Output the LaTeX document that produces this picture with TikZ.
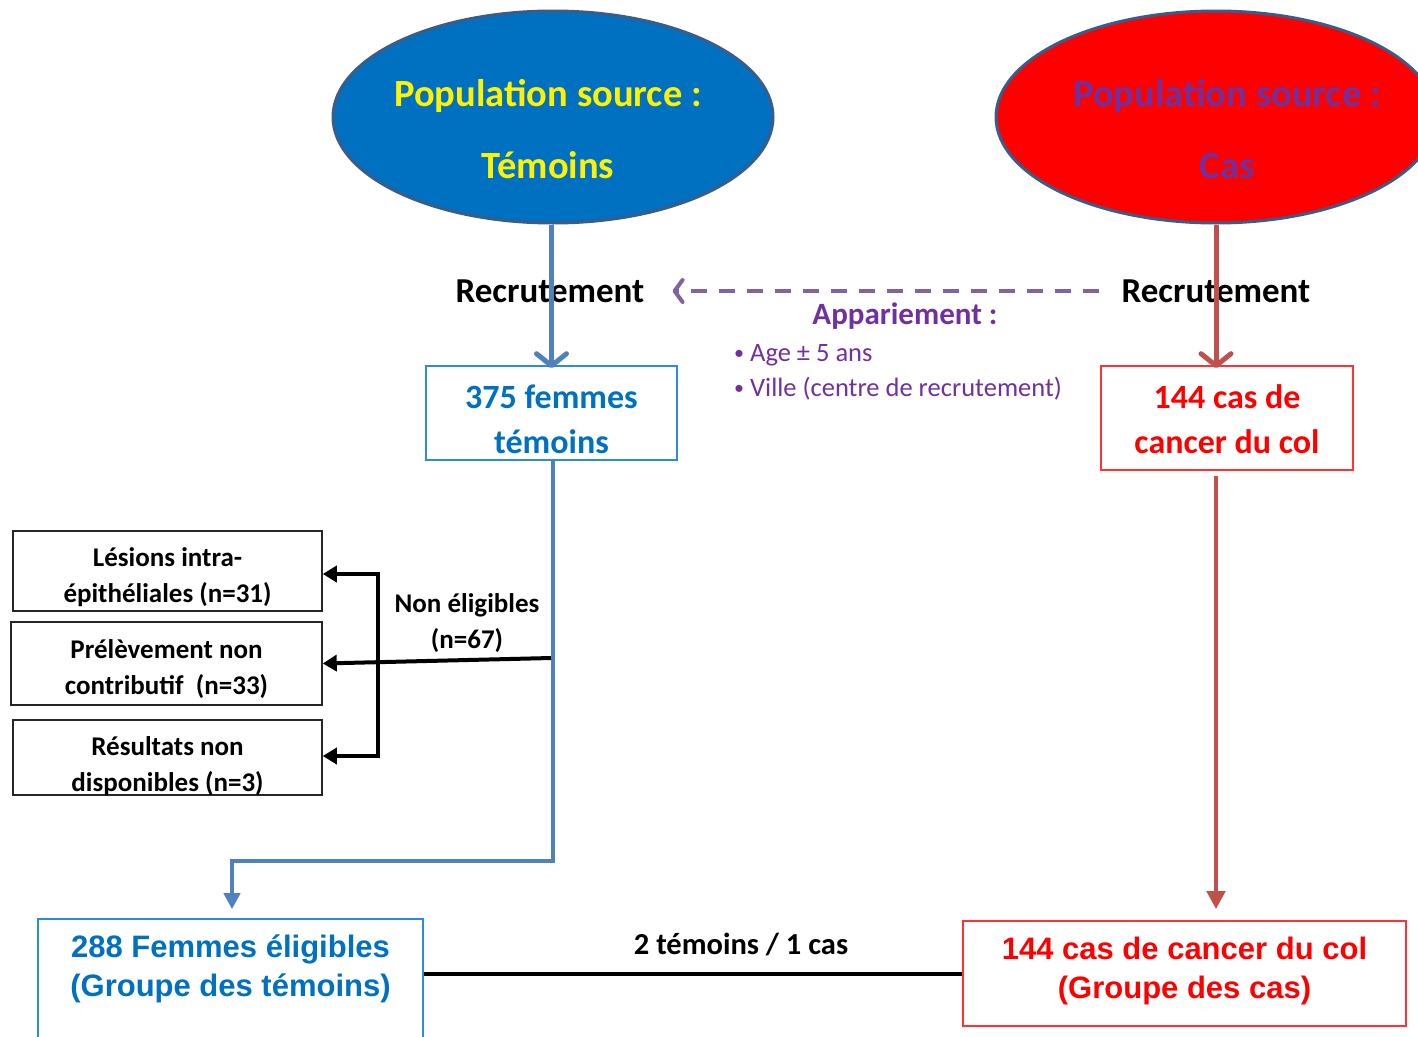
\documentclass[tikz,border=0pt]{standalone}
\usepackage{fontspec}
\setmainfont{Carlito}
\newfontfamily\arialfont{Liberation Sans}
\usetikzlibrary{shapes.geometric,arrows.meta}
\definecolor{ellblue}{HTML}{0070C0}
\definecolor{ellborder}{HTML}{385D8A}
\definecolor{ellred}{HTML}{FF0000}
\definecolor{lineblue}{HTML}{4F81BD}
\definecolor{linered}{HTML}{C0504D}
\definecolor{dashpurple}{HTML}{8064A2}
\definecolor{txtpurple}{HTML}{7030A0}
\definecolor{txtblue}{HTML}{0070C0}
\definecolor{boxblue}{HTML}{2E8BD8}
\definecolor{boxred}{HTML}{FF3333}
\tikzset{
  popell/.style={ellipse, draw=ellborder, line width=3pt, minimum width=440pt, minimum height=212pt, inner sep=0pt},
  poptxt/.style={align=center, font=\fontsize{38.5}{72}\selectfont\bfseries},
  rectxt/.style={font=\fontsize{35}{40}\selectfont\bfseries, text=black, inner sep=0pt},
  boxframe/.style={line width=1.6pt, inner sep=0pt},
  boxtxt/.style={align=center, inner sep=0pt, font=\fontsize{34}{45}\selectfont\bfseries},
  smallbox/.style={draw=black!85, line width=1.5pt, inner sep=0pt},
  smalltxt/.style={align=center, inner sep=0pt, font=\fontsize{27}{36}\selectfont\bfseries},
  bigtxt/.style={align=center, inner sep=0pt, font=\fontsize{31}{39}\selectfont\arialfont\bfseries},
  openarrow/.style={line width=5pt, -{Straight Barb[length=12pt,width=30pt,line width=5pt,round]}},
  blackarrow/.style={black, line width=4pt, -{Triangle[length=14pt,width=16pt]}},
}
\begin{document}
\begin{tikzpicture}[x=1pt,y=-1pt]
\useasboundingbox (0,0) rectangle (1418,1036);
\clip (0,0) rectangle (1418,1036);
% ellipses
\node[popell, fill=ellblue] (popT) at (553,117) {};
\node[poptxt, text={yellow}] (popTtxt) at (548,129) {Population source :\\Témoins};
\node[popell, fill=ellred] (popC) at (1216,117) {};
\node[poptxt, text=txtpurple] (popCtxt) at (1227,129) {Population source :\\Cas};
% recruitment labels
\node[rectxt] (recT) at (550,291) {Recrutement};
\node[rectxt] (recC) at (1216,291) {Recrutement};
% matching text
\node[text=txtpurple, font=\fontsize{31}{34}\selectfont\bfseries, inner sep=0pt] (appar) at (905,316) {Appariement :};
\node[text=txtpurple, font=\fontsize{26.5}{35}\selectfont, align=left, anchor=west, inner sep=0pt] (crit) at (734,372) {\fontsize{20}{35}\selectfont\raisebox{2pt}{•}\fontsize{26.5}{35}\selectfont\ Age ± 5 ans\\\fontsize{20}{35}\selectfont\raisebox{2pt}{•}\fontsize{26.5}{35}\selectfont\ Ville (centre de recrutement)};
% boxes
\node[boxframe, draw=boxblue, minimum width=251pt, minimum height=94pt] (f375) at (551.5,413) {};
\node[boxtxt, text=txtblue] (f375txt) at (551.5,419) {375 femmes\\témoins};
\node[boxframe, draw=boxred, minimum width=252pt, minimum height=104pt] (c144) at (1227,418) {};
\node[boxtxt, text=ellred] (c144txt) at (1227,419) {144 cas de\\cancer du col};
% small boxes
\node[smallbox, minimum width=309pt, minimum height=80pt] (b1) at (167.5,571) {};
\node[smalltxt] (b1txt) at (167.5,577) {Lésions intra-\\épithéliales (n=31)};
\node[smallbox, minimum width=311pt, minimum height=83pt] (b2) at (166.5,663.5) {};
\node[smalltxt] (b2txt) at (166.5,669) {Prélèvement non\\contributif~~(n=33)};
\node[smallbox, minimum width=309pt, minimum height=75pt] (b3) at (167.5,757.5) {};
\node[smalltxt] (b3txt) at (167.5,766) {Résultats non\\disponibles (n=3)};
\node[smalltxt] (nonel) at (467,623) {Non éligibles\\(n=67)};
% bottom boxes
\node[boxframe, draw=boxblue, minimum width=385pt, minimum height=126pt] (e288) at (230.5,982) {};
\node[bigtxt, text=txtblue] (e288txt) at (230.5,969) {288 Femmes éligibles\\(Groupe des témoins)};
\node[boxframe, draw=boxred, minimum width=443pt, minimum height=105pt] (c144b) at (1184.5,973.5) {};
\node[bigtxt, text=ellred] (c144btxt) at (1184.5,970.5) {144 cas de cancer du col\\(Groupe des cas)};
\node[font=\fontsize{30.5}{34}\selectfont\bfseries, inner sep=0pt] (ratio) at (741,944) {2 témoins / 1 cas};
% connectors
\draw[openarrow, lineblue] (popT.south -| f375.north) -- ([yshift=-3pt]f375.north);
\draw[openarrow, linered] (popC.south) -- ([yshift=-3pt]popC.south |- c144.north);
\draw[dashpurple, line width=4pt, dash pattern=on 16pt off 12pt, -{Straight Barb[length=8pt,width=22pt,line width=4pt,round]}] ([xshift=-22pt]recC.west) -- ([xshift=28pt]recT.east);
\coordinate (turn1) at (553,861);
\coordinate (turn2) at (232,861);
\draw[lineblue, line width=4.5pt, -{Triangle[length=16pt,width=16pt]}, shorten >=9pt] ([xshift=1.5pt]f375.south) -- (turn1) -- (turn2) -- (turn2 |- e288.north);
\draw[linered, line width=4.5pt, -{Triangle[length=18pt,width=18pt]}, shorten >=11pt] ([yshift=-5pt]popC.south |- c144.south) -- (popC.south |- c144b.north);
\coordinate (split) at (551,658);
\coordinate (brtop) at (378,574);
\coordinate (brbot) at (378,756);
\draw[blackarrow] (split) -- (b2.east);
\draw[blackarrow] (brtop) -- (brtop -| b1.east);
\draw[blackarrow] (brbot) -- (brbot -| b3.east);
\draw[black, line width=4pt] ([yshift=2pt]brtop) -- ([yshift=-2pt]brbot);
\draw[black, line width=4pt] (e288.east |- c144b.west) -- (c144b.west);
\end{tikzpicture}
\end{document}
